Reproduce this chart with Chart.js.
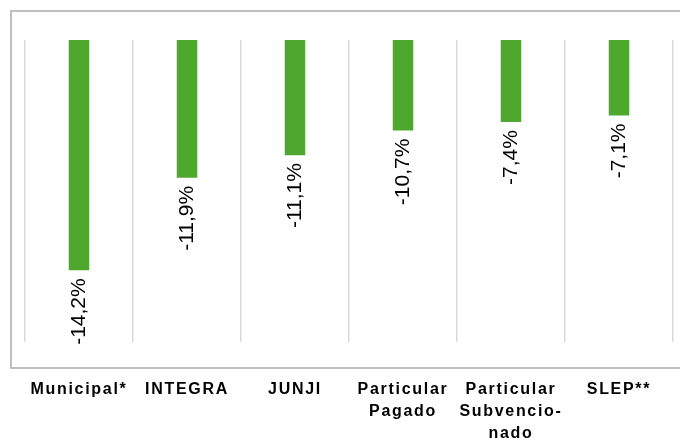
<!DOCTYPE html>
<html>
<head>
<meta charset="utf-8">
<script src="https://cdn.jsdelivr.net/npm/chart.js@4/dist/chart.umd.min.js"></script>
<style>
html,body{margin:0;padding:0;background:#fff;}
#wrap{width:680px;height:440px;position:relative;}
</style>
</head>
<body>
<div id="wrap"><canvas id="c" width="680" height="440"></canvas></div>
<script>
// Categories (multi-line where the reference wraps)
const categories = [
  "Municipal*",
  "INTEGRA",
  "JUNJI",
  ["Particular", "Pagado"],
  ["Particular", "Subvencio-", "nado"],
  "SLEP**"
];
// Bar lengths as drawn in the picture (axis units, hidden axis 0 .. -16)
const barValues = [-12.2, -7.3, -6.1, -4.8, -4.35, -4.0];
// Printed data labels
const labelTexts = ["-14,2%", "-11,9%", "-11,1%", "-10,7%", "-7,4%", "-7,1%"];
const yMin = -16;
const yMax = 0;

const FONT = "'Liberation Sans', Arial, sans-serif";

const spacingPlugin = {
  id: 'spacing',
  beforeLayout(chart){ chart.ctx.letterSpacing = '1.7px'; },
  beforeDraw(chart){ chart.ctx.letterSpacing = '1.7px'; }
};

const framePlugin = {
  id: 'frame',
  beforeDraw(chart){
    const ctx = chart.ctx;
    ctx.save();
    ctx.strokeStyle = '#bfbfbf';
    ctx.lineWidth = 2;
    ctx.strokeRect(11, 11, 690, 357);
    ctx.restore();
  }
};

const labelPlugin = {
  id: 'barLabels',
  afterDatasetsDraw(chart){
    const ctx = chart.ctx;
    const meta = chart.getDatasetMeta(0);
    meta.data.forEach((bar, i) => {
      ctx.save();
      ctx.letterSpacing = '0px';
      ctx.translate(bar.x, bar.y + 8);
      ctx.rotate(-Math.PI / 2);
      ctx.font = "21px " + FONT;
      ctx.fillStyle = '#000';
      ctx.textAlign = 'right';
      ctx.textBaseline = 'middle';
      ctx.fillText(labelTexts[i], 0, 0);
      ctx.restore();
    });
  }
};

new Chart(document.getElementById('c'), {
  type: 'bar',
  data: {
    labels: categories,
    datasets: [{
      data: barValues,
      backgroundColor: '#4ea72e',
      borderWidth: 0,
      barPercentage: 0.19,
      categoryPercentage: 1.0
    }]
  },
  options: {
    responsive: false,
    animation: false,
    devicePixelRatio: 1,
    layout: { padding: { left: 25, right: 7, top: 40, bottom: 0 } },
    plugins: { legend: { display: false }, tooltip: { enabled: false } },
    scales: {
      y: { display: false, min: yMin, max: yMax },
      x: {
        offset: true,
        border: { display: false },
        grid: { display: true, color: '#d9d9d9', lineWidth: 1.5, drawTicks: false, offset: true },
        ticks: {
          padding: 37,
          maxRotation: 0, minRotation: 0, autoSkip: false,
          color: '#000',
          font: { family: FONT, size: 16, weight: 'bold', lineHeight: 1.375 }
        },
        afterFit(scale){
          scale.height = 98;
          scale.paddingLeft = 0;
          scale.paddingRight = 0;
        }
      }
    }
  },
  plugins: [spacingPlugin, framePlugin, labelPlugin]
});
</script>
</body>
</html>
